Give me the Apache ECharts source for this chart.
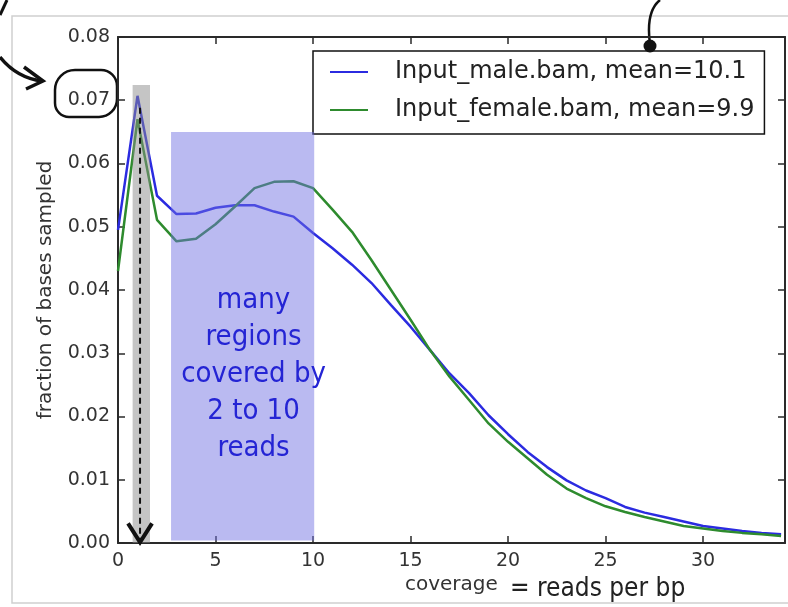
<!DOCTYPE html>
<html>
<head>
<meta charset="utf-8">
<title>coverage</title>
<script src="https://cdn.jsdelivr.net/npm/echarts@6/dist/echarts.min.js"></script>
<style>
  html, body { margin: 0; padding: 0; background: #fff; }
  #chart { width: 788px; height: 607px; }
</style>
</head>
<body>
<div id="chart"></div>
<script>
// reads per bp, 0..34
const coverage = [0, 1, 2, 3, 4, 5, 6, 7, 8, 9, 10, 11, 12, 13, 14, 15, 16, 17,
  18, 19, 20, 21, 22, 23, 24, 25, 26, 27, 28, 29, 30, 31, 32, 33, 34];
const maleFrac = [0.0495, 0.0707, 0.0549, 0.0520, 0.0521, 0.0530, 0.0534, 0.0534, 0.0524,
  0.0516, 0.0490, 0.0466, 0.0440, 0.0411, 0.0376, 0.0342, 0.0305, 0.0268, 0.0237,
  0.0202, 0.0172, 0.0144, 0.0120, 0.0099, 0.0083, 0.0071, 0.0057, 0.0048, 0.0041,
  0.0034, 0.0027, 0.0023, 0.0019, 0.0016, 0.0014];
const femaleFrac = [0.0430, 0.0670, 0.0511, 0.0477, 0.0481, 0.0504, 0.0532, 0.0561, 0.0571,
  0.0572, 0.0561, 0.0527, 0.0492, 0.0447, 0.0400, 0.0353, 0.0305, 0.0263, 0.0226,
  0.0189, 0.0160, 0.0134, 0.0108, 0.0086, 0.0071, 0.0058, 0.0049, 0.0041, 0.0034,
  0.0027, 0.0023, 0.0019, 0.0016, 0.0014, 0.0011];
const seriesNames = ['Input_male.bam, mean=10.1', 'Input_female.bam, mean=9.9'];
// highlighted ranges: [x from, x to, y top]
const peakBand = [0.75, 1.64, 0.0724];
const wideBand = [2.72, 10.06, 0.065];
const peakArrow = [1.13, 0.0688, 0.0001];
const bandNote = 'many\nregions\ncovered by\n2 to 10\nreads';

const hand = "'Liberation Sans Narrow', 'DejaVu Sans Condensed', sans-serif";
const axisColor = '#2a2a2a';

const chart = echarts.init(document.getElementById('chart'));

const xBase = {
  type: 'value', min: 0, max: 34.2, interval: 5,
  axisLine: { show: true, onZero: false, lineStyle: { color: axisColor, width: 2 } },
  axisTick: { show: true, inside: true, length: 7, lineStyle: { color: axisColor, width: 1.5 } },
  splitLine: { show: false }
};
const yBase = {
  type: 'value', min: 0, max: 0.08, interval: 0.01,
  axisLine: { show: true, onZero: false, lineStyle: { color: axisColor, width: 2 } },
  axisTick: { show: true, inside: true, length: 7, lineStyle: { color: axisColor, width: 1.5 } },
  splitLine: { show: false }
};

chart.setOption({
  animation: false,
  grid: { left: 118, right: 3, top: 37, bottom: 64 },
  legend: {
    data: seriesNames,
    orient: 'vertical',
    left: 313, top: 51,
    icon: 'rect', itemWidth: 38, itemHeight: 2, itemGap: 8,
    selectedMode: false,
    backgroundColor: '#fff',
    borderColor: '#111', borderWidth: 1.5, borderRadius: 0,
    padding: [6, 10, 9, 17],
    textStyle: { fontFamily: 'DejaVu Sans', fontSize: 24, color: '#222', lineHeight: 30, padding: [0, 0, 0, 22] }
  },
  xAxis: [
    Object.assign({}, xBase, {
      position: 'bottom',
      axisLabel: { showMaxLabel: false, margin: 9, fontFamily: 'DejaVu Sans', fontSize: 19, color: '#333' }
    }),
    Object.assign({}, xBase, { position: 'top', axisLabel: { show: false } })
  ],
  yAxis: [
    Object.assign({}, yBase, {
      position: 'left',
      name: 'fraction of bases sampled',
      nameLocation: 'middle', nameGap: 62, nameRotate: 90,
      nameTextStyle: { fontFamily: 'DejaVu Sans', fontSize: 20, color: '#333' },
      axisLabel: { margin: 8, fontFamily: 'DejaVu Sans', fontSize: 19, color: '#333',
        formatter: v => v.toFixed(2) }
    }),
    Object.assign({}, yBase, { position: 'right', axisLabel: { show: false } })
  ],
  series: [
    {
      name: seriesNames[0], type: 'line', z: 2,
      showSymbol: false, symbol: 'none',
      data: coverage.map((c, i) => [c, maleFrac[i]]),
      itemStyle: { color: '#2b2be0' },
      lineStyle: { color: '#2b2be0', width: 2.5 }
    },
    {
      name: seriesNames[1], type: 'line', z: 2,
      showSymbol: false, symbol: 'none',
      data: coverage.map((c, i) => [c, femaleFrac[i]]),
      itemStyle: { color: '#2e8b2e' },
      lineStyle: { color: '#2e8b2e', width: 2.5 }
    },
    {
      type: 'custom', z: 4, silent: true,
      data: [peakBand, wideBand],
      renderItem: (params, api) => {
        const p0 = api.coord([api.value(0), api.value(2)]);
        const p1 = api.coord([api.value(1), params.dataIndex === 0 ? 0 : 0.0004]);
        const rect = {
          type: 'rect',
          shape: { x: p0[0], y: p0[1], width: p1[0] - p0[0], height: p1[1] - p0[1] },
          style: { fill: params.dataIndex === 0 ? 'rgba(140,140,140,0.5)' : 'rgba(110,110,225,0.48)' }
        };
        if (params.dataIndex === 0) return rect;
        const t = api.coord([6.95, 0.0267]);
        return {
          type: 'group',
          children: [rect, {
            type: 'text',
            style: {
              text: bandNote, x: t[0], y: t[1], align: 'center', verticalAlign: 'middle',
              fontFamily: hand, fontSize: 29, lineHeight: 37, fill: '#2424d4'
            }
          }]
        };
      }
    },
    {
      type: 'custom', z: 5, silent: true,
      data: [peakArrow],
      renderItem: (params, api) => {
        const top = api.coord([api.value(0), api.value(1)]);
        const tip = api.coord([api.value(0), api.value(2)]);
        return {
          type: 'group',
          children: [
            { type: 'line', shape: { x1: top[0], y1: top[1], x2: tip[0], y2: tip[1] - 3 },
              style: { stroke: '#111', lineWidth: 2, lineDash: [6, 4] } },
            { type: 'polyline',
              shape: { points: [[tip[0] - 12, tip[1] - 19], [tip[0], tip[1]], [tip[0] + 12, tip[1] - 19]] },
              style: { stroke: '#111', lineWidth: 4, fill: null } }
          ]
        };
      }
    }
  ],
  graphic: [
    // photo frame
    { type: 'rect', shape: { x: 12, y: 16, width: 800, height: 587 },
      style: { fill: null, stroke: '#d0d0d0', lineWidth: 1.5 }, z: 0 },
    { type: 'text', left: 405, top: 575,
      style: { text: 'coverage', fontFamily: 'DejaVu Sans', fontSize: 20, fill: '#333' } },
    { type: 'text', left: 510, top: 576,
      style: { text: '= reads per bp', fontFamily: hand, fontSize: 26, fill: '#222' } },
    // hand-drawn marks
    { type: 'rect', shape: { x: 55, y: 70, width: 62, height: 47, r: [20, 16, 18, 14] },
      style: { fill: null, stroke: '#111', lineWidth: 2.5 } },
    { type: 'bezierCurve', shape: { x1: 0, y1: 57, cpx1: 12, cpy1: 72, cpx2: 26, cpy2: 79, x2: 42, y2: 81 },
      style: { stroke: '#111', lineWidth: 3.5, fill: null } },
    { type: 'polyline', shape: { points: [[24, 67], [43, 81], [26, 89]] },
      style: { stroke: '#111', lineWidth: 3.5, fill: null } },
    { type: 'line', shape: { x1: 0, y1: 15, x2: 7, y2: 0 },
      style: { stroke: '#111', lineWidth: 3 } },
    { type: 'bezierCurve', shape: { x1: 650, y1: 44, cpx1: 647, cpy1: 22, cpx2: 650, cpy2: 8, x2: 660, y2: 0 },
      style: { stroke: '#111', lineWidth: 2.5, fill: null } },
    { type: 'circle', shape: { cx: 650, cy: 46, r: 6.5 }, style: { fill: '#111' }, z: 10 }
  ]
});
</script>
</body>
</html>
